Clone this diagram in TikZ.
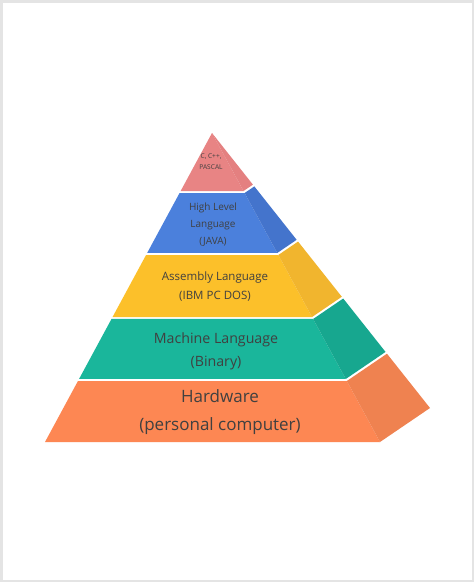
\documentclass[tikz,border=0pt]{standalone}
\usepackage{fontspec}
\setmainfont{Open Sans}
\usetikzlibrary{calc}
\definecolor{frame}{HTML}{E4E4E4}
\definecolor{pinkF}{HTML}{E88484}
\definecolor{pinkS}{HTML}{E48080}
\definecolor{blueF}{HTML}{4B80DC}
\definecolor{blueS}{HTML}{4474CC}
\definecolor{yelF}{HTML}{FCC02A}
\definecolor{yelS}{HTML}{F1B52E}
\definecolor{tealF}{HTML}{1AB69B}
\definecolor{tealS}{HTML}{17A78F}
\definecolor{oraF}{HTML}{FD8753}
\definecolor{oraS}{HTML}{EF8250}
\definecolor{txt}{HTML}{404040}
\newcommand{\pyrtier}[4]{%
  \fill[#3] ($(A)!#1!(L)$) -- ($(A)!#1!(R)$) -- ($(A)!#2!(R)$) -- ($(A)!#2!(L)$) -- cycle;
  \fill[#4] ($(A)!#1!(R)$) -- ($(A)!#1!(B)$) -- ($(A)!#2!(B)$) -- ($(A)!#2!(R)$) -- cycle;
}
\tikzset{
  lbl/.style={text=txt, align=center, inner sep=0pt, anchor=center},
}
\begin{document}
\begin{tikzpicture}[x=1pt,y=-1pt]
  % frame
  \fill[frame] (0,0) rectangle (474,582);
  \fill[white] (2.7,2.7) rectangle (471.7,580);
  \useasboundingbox (0,0) rectangle (474,582);
  % pyramid reference points
  \coordinate (A) at (212,133);
  \coordinate (L) at (45,442);
  \coordinate (R) at (380,442);
  \coordinate (B) at (430,408);
  % tiers
  \pyrtier{0}{0.1877}{pinkF}{pinkS}
  \pyrtier{0.1942}{0.3883}{blueF}{blueS}
  \pyrtier{0.3948}{0.5955}{yelF}{yelS}
  \pyrtier{0.6019}{0.7961}{tealF}{tealS}
  \pyrtier{0.8026}{1}{oraF}{oraS}
  % labels
  \node[lbl, font=\fontsize{6.6}{11.5}\selectfont] (tp) at (211,161.5) {C, C++,\\PASCAL};
  \node[lbl, font=\fontsize{10}{17}\selectfont] (tb) at (213,225) {High Level\\Language\\(JAVA)};
  \node[lbl, font=\fontsize{11.5}{18.3}\selectfont] (ty) at (215,286.5) {Assembly Language\\(IBM PC DOS)};
  \node[lbl, font=\fontsize{14.2}{23}\selectfont] (tt) at (216,351) {Machine Language\\(Binary)};
  \node[lbl, font=\fontsize{17}{27.7}\selectfont] (to) at (220,412) {Hardware\\(personal computer)};
\end{tikzpicture}
\end{document}
